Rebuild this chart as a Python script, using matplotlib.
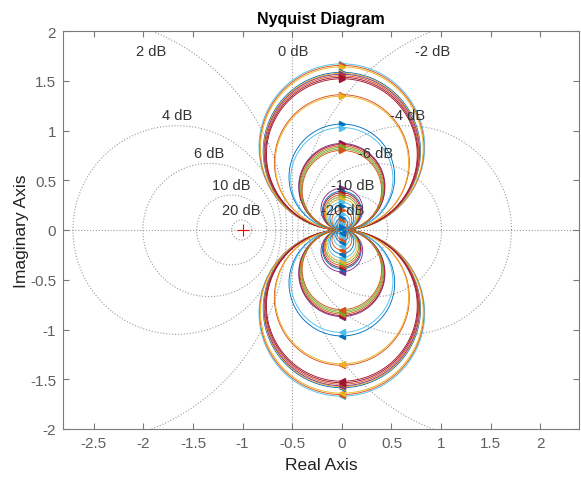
import numpy as np
import matplotlib
matplotlib.use("Agg")
import matplotlib.pyplot as plt

# MATLAB default colour order
C = ['#0072BD', '#D95319', '#EDB120', '#7E2F8E', '#77AC30', '#4DBEEE', '#A2142F']

# Peak imaginary value of each Nyquist lobe and colour index
peaks = [1.67, 1.655, 1.64, 1.585, 1.575, 1.565, 1.55, 1.535, 1.52,
         1.36, 1.345, 1.065, 1.03,
         0.87, 0.86, 0.845, 0.83, 0.815, 0.80,
         0.42, 0.39, 0.375, 0.355, 0.335, 0.31, 0.28, 0.24, 0.20, 0.16,
         0.12, 0.09, 0.06, 0.035]
color_idx = [5, 1, 2, 0, 2, 3, 1, 6, 6,
             1, 2, 0, 5,
             3, 6, 1, 4, 4, 1,
             3, 0, 6, 1, 4, 2, 5, 0, 1, 5,
             0, 1, 5, 0]

mcircle_db = [20, 10, 6, 4, 2, 0, -2, -4, -6, -10, -20]
label_xy_fixed = {2: (-1.92, 1.80), 0: (-0.49, 1.80), -2: (0.91, 1.80)}

fig = plt.figure(figsize=(5.81, 4.81), dpi=100)
ax = fig.add_axes([63/581, 51/481, (579-63)/581, (430-32)/481])

gridc = '#9a9a9a'
t = np.linspace(0, 2*np.pi, 721)
ax.axhline(0, color=gridc, ls=':', lw=0.8, zorder=1)
for db in mcircle_db:
    if db == 0:
        ax.axvline(-0.5, color=gridc, ls=':', lw=0.8, zorder=1)
        continue
    M = 10**(db/20)
    c = -M**2/(M**2-1)
    r = abs(M/(M**2-1))
    ax.plot(c + r*np.cos(t), r*np.sin(t), color=gridc, ls=':', lw=0.8, zorder=1)
for db in mcircle_db:
    if db in label_xy_fixed:
        lx, ly = label_xy_fixed[db]
    else:
        M = 10**(db/20)
        lx = -M**2/(M**2-1)
        ly = abs(M/(M**2-1)) + 0.105
    ax.text(lx, ly, f'{db} dB', ha='center', va='center', fontsize=10.5,
            color='#333333', family='Liberation Sans', zorder=6)

s = np.linspace(0, 2*np.pi, 600)
for h, ci in zip(peaks, color_idx):
    col = C[ci]
    z = 1j*(h/2)*(1 - np.exp(-1j*s))
    zz = np.concatenate([z, np.conj(z[::-1])])
    ax.plot(zz.real, zz.imag, color=col, lw=0.65, zorder=3)
    ax.plot([0], [h], marker='>', color=col, ms=4, zorder=4)
    ax.plot([0], [-h], marker='<', color=col, ms=4, zorder=4)

ax.plot([-1], [0], marker='+', color='red', ms=8, mew=0.8, zorder=5)

ax.set_xlim(-2.81, 2.39)
ax.set_ylim(-2, 2)
ax.set_xticks([-2.5, -2, -1.5, -1, -0.5, 0, 0.5, 1, 1.5, 2])
ax.set_xticklabels(['-2.5', '-2', '-1.5', '-1', '-0.5', '0', '0.5', '1', '1.5', '2'])
ax.set_yticks([-2, -1.5, -1, -0.5, 0, 0.5, 1, 1.5, 2])
ax.set_yticklabels(['-2', '-1.5', '-1', '-0.5', '0', '0.5', '1', '1.5', '2'])
axc = '#7a7a7a'
ax.tick_params(direction='in', top=True, right=True, length=4, width=0.8,
               colors=axc, labelsize=11, labelcolor='#606060', pad=5)
for lab in ax.get_xticklabels() + ax.get_yticklabels():
    lab.set_family('Liberation Sans')
for sp in ax.spines.values():
    sp.set_color(axc)
    sp.set_linewidth(0.8)
ax.set_xlabel('Real Axis', fontsize=12.5, family='Liberation Sans', color='#222222', labelpad=5)
ax.set_ylabel('Imaginary Axis', fontsize=12.5, family='Liberation Sans', color='#222222', labelpad=1)
ax.set_title('Nyquist Diagram', fontsize=11.5, fontweight='bold', family='Liberation Sans', pad=6)

fig.savefig('out.png', dpi=100)
